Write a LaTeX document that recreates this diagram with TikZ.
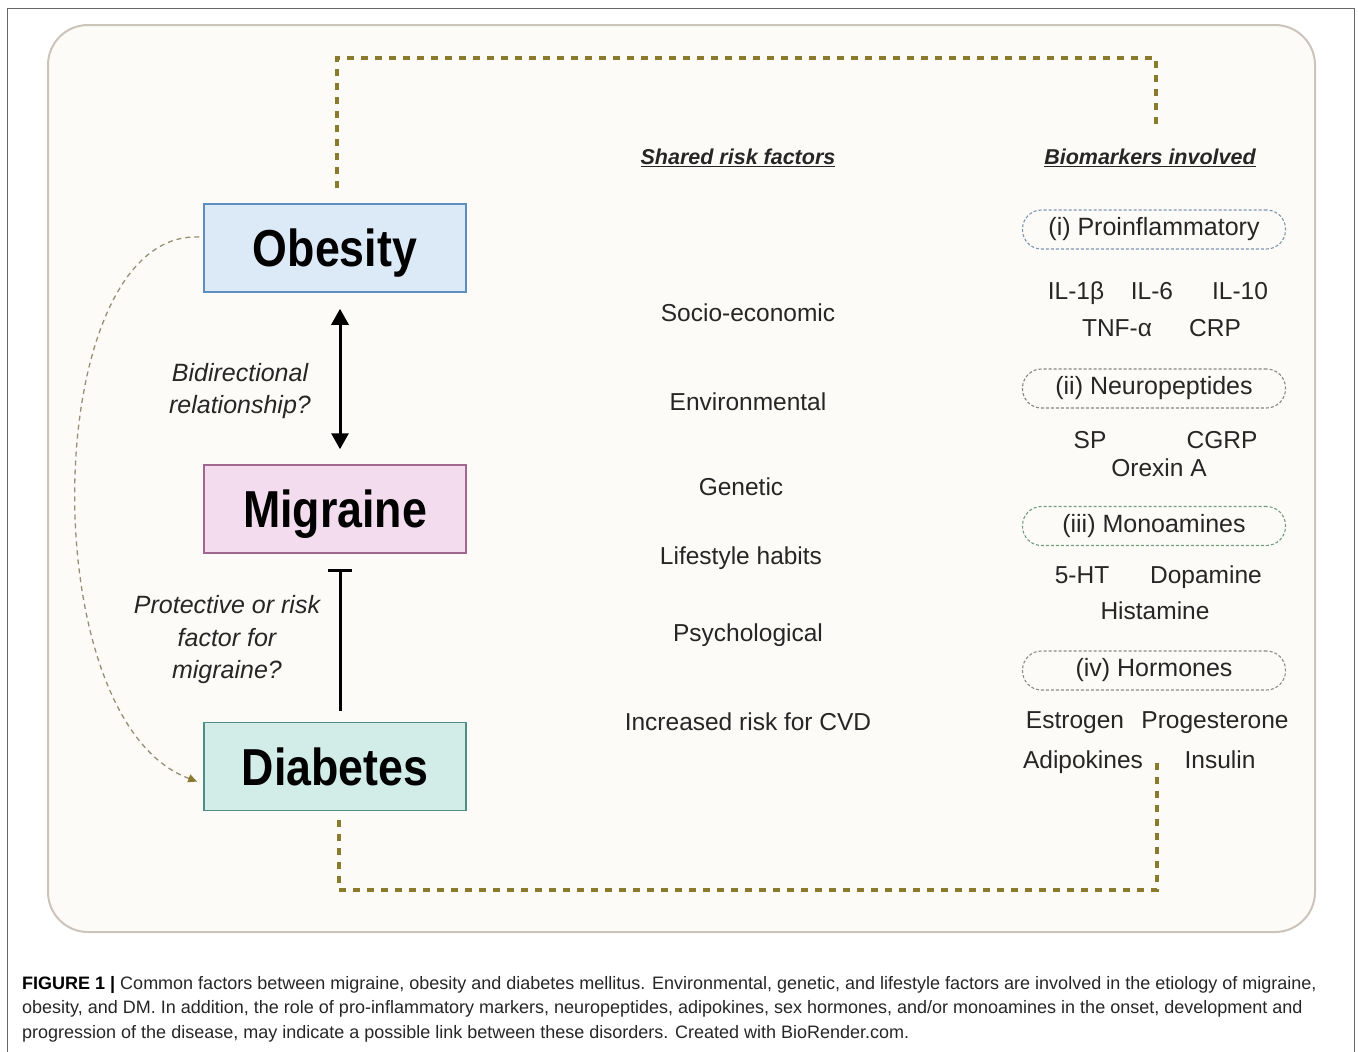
\documentclass[tikz,border=0pt]{standalone}
\usepackage{fontspec}
\setmainfont{Liberation Sans}
\newfontfamily\diseasefont[FakeStretch=0.86]{Liberation Sans}
\usetikzlibrary{arrows.meta,calc}
\definecolor{cream}{HTML}{FDFBF7}
\definecolor{creamline}{HTML}{CCC4BB}
\definecolor{obfill}{HTML}{DCEAF8}
\definecolor{obline}{HTML}{5E8DBF}
\definecolor{mifill}{HTML}{F2DCEE}
\definecolor{miline}{HTML}{A0688F}
\definecolor{difill}{HTML}{D2EDE8}
\definecolor{diline}{HTML}{4F8E86}
\definecolor{olive}{HTML}{8A7B2C}
\definecolor{curvegray}{HTML}{958F78}
\definecolor{txt}{HTML}{262626}
\definecolor{boxi}{HTML}{7C96B2}
\definecolor{boxii}{HTML}{858585}
\definecolor{boxiii}{HTML}{6F9C82}
\definecolor{boxiv}{HTML}{8C8C8C}

\begin{document}
\begin{tikzpicture}[x=1pt,y=-1pt,
    disease/.style 2 args={draw=#2, fill=#1, line width=1.5pt,
      minimum width=262pt, minimum height=88pt, text height=37pt, text depth=0pt,
      font=\diseasefont\fontsize{52}{60}\selectfont\bfseries, text=black},
    risk/.style={font=\fontsize{24.5}{28}\selectfont, text=txt, text height=17.5pt, text depth=0pt},
    marker/.style={font=\fontsize{24.5}{28}\selectfont, text=txt, text height=17.5pt, text depth=0pt},
    group/.style={draw=#1, dashed, dash pattern=on 3pt off 2pt, line width=1.1pt,
      rounded corners=19pt, minimum width=263pt, minimum height=39pt,
      font=\fontsize{25}{28}\selectfont, text=txt},
    question/.style={font=\fontsize{25}{32.5}\selectfont\itshape, text=txt, align=center},
    heading/.style={font=\fontsize{21.5}{24}\selectfont\bfseries\itshape, text=txt,
      text height=15.5pt, text depth=0pt},
    linkdash/.style={olive, line width=4pt, dash pattern=on 7pt off 7pt},
    capline/.style={anchor=base west, inner sep=0pt,
      font=\fontsize{18}{24}\selectfont, text=txt}
  ]
  \useasboundingbox (0,0) rectangle (1358,1052);

  % Frame
  \draw[gray!80!black, line width=1pt] (7.5,1052) -- (7.5,8.5) -- (1354,8.5) -- (1354,1052);
  \draw[creamline, fill=cream, line width=2pt, rounded corners=40pt] (48,25) rectangle (1315,932);

  % Disease boxes
  \node[disease={obfill}{obline}] (obesity) at (335,248) {Obesity};
  \node[disease={mifill}{miline}] (migraine) at (335,509) {Migraine};
  \node[disease={difill}{diline}] (diabetes) at (335,766.5) {Diabetes};

  % Relations
  \draw[{Triangle[length=16pt,width=17pt]}-{Triangle[length=16pt,width=17pt]}, line width=3pt,
    shorten <=16pt, shorten >=15pt] ($(obesity.south)+(5,0)$) -- ($(migraine.north)+(5,0)$);
  \draw[-{Bar[width=24pt]}, line width=3pt, shorten <=11pt, shorten >=15pt]
    ($(diabetes.north)+(5,0)$) -- ($(migraine.south)+(5,0)$);
  \node[question] (bidir) at (240,391) {Bidirectional\\relationship?};
  \node[question] (protect) at (227,640) {Protective or risk\\factor for\\migraine?};

  % Curved link obesity -> diabetes
  \draw[curvegray, line width=1.3pt, dash pattern=on 5pt off 4pt,
    -{Triangle[length=9pt,width=8pt,fill=olive,color=olive]}]
    ($(obesity.west)+(-4,-11)$) .. controls (40,230) and (30,720) .. ($(diabetes.west)+(-6,15)$);

  % Headings
  \node[heading] (shared) at (738,157) {\underline{Shared risk factors}};
  \node[heading] (bio) at (1150,157) {\underline{Biomarkers involved}};

  % Shared risk factors
  \node[risk] (socio) at (748,313) {Socio-economic};
  \node[risk] (env) at (748,402) {Environmental};
  \node[risk] (gen) at (741,487) {Genetic};
  \node[risk] (life) at (741,556) {Lifestyle habits};
  \node[risk] (psych) at (748,633) {Psychological};
  \node[risk] (cvd) at (748,722) {Increased risk for CVD};

  % Biomarkers
  \node[group=boxi] (proinf) at (1154,229.5) {(i) Proinflammatory};
  \node[marker] (il1) at (1076,291) {IL-1β};
  \node[marker] (il6) at (1152,291) {IL-6};
  \node[marker] (il10) at (1240,291) {IL-10};
  \node[marker] (tnf) at (1117,328) {TNF-α};
  \node[marker] (crp) at (1215,328) {CRP};

  \node[group=boxii] (neuro) at (1154,388.5) {(ii) Neuropeptides};
  \node[marker] (sp) at (1090,440) {SP};
  \node[marker] (cgrp) at (1222,440) {CGRP};
  \node[marker] (orexin) at (1159,468) {Orexin A};

  \node[group=boxiii] (mono) at (1154,526) {(iii) Monoamines};
  \node[marker] (ht) at (1082,575) {5-HT};
  \node[marker] (dopa) at (1206,575) {Dopamine};
  \node[marker] (hist) at (1155,611) {Histamine};

  \node[group=boxiv] (horm) at (1154,670.5) {(iv) Hormones};
  \node[marker] (estro) at (1075,720) {Estrogen};
  \node[marker] (prog) at (1215,720) {Progesterone};
  \node[marker] (adipo) at (1083,760) {Adipokines};
  \node[marker] (insu) at (1220,760) {Insulin};

  % Olive links
  \coordinate (obtop) at (337,188);
  \coordinate (biotop) at (1156,130);
  \coordinate (diabot) at (339,820);
  \coordinate (hormbot) at (1157,763);
  \draw[linkdash] (obtop) -- ++(0,-130) -| (biotop);
  \draw[linkdash] (diabot) -- ++(0,70) -| (hormbot);

  % Caption
  \node[capline] (cap1) at (22,989) {\textbf{\color{black}FIGURE 1 |} Common factors between migraine, obesity and diabetes mellitus. Environmental, genetic, and lifestyle factors are involved in the etiology of migraine,};
  \node[capline] (cap2) at (22,1013.5) {obesity, and DM. In addition, the role of pro-inflammatory markers, neuropeptides, adipokines, sex hormones, and/or monoamines in the onset, development and};
  \node[capline] (cap3) at (22,1038) {progression of the disease, may indicate a possible link between these disorders. Created with BioRender.com.};
\end{tikzpicture}
\end{document}
